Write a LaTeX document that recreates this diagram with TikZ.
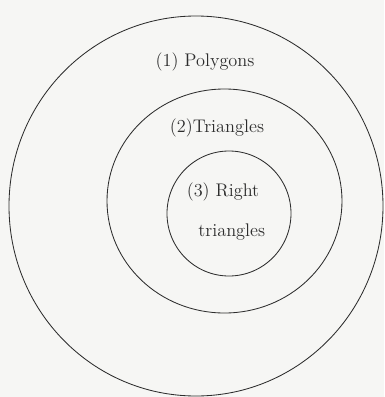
\documentclass[tikz,border=0pt]{standalone}
\usepackage{tikz}
\usetikzlibrary{positioning}
\definecolor{paper}{RGB}{246,246,244}
\definecolor{ink}{RGB}{45,45,45}

\begin{document}
\begin{tikzpicture}[
    x=0.025cm, y=-0.025cm,
    ring/.style={draw=ink, line width=0.6pt},
    every node/.style={
        font=\fontsize{13}{15}\selectfont,
        text=ink,
        inner sep=0pt
    }
]
\fill[paper] (0,0) rectangle (384,397);
\useasboundingbox (0,0) rectangle (384,397);

% sets, outermost first
\draw[ring] (196,206) ellipse [x radius=187, y radius=190];
\draw[ring] (224.5,201) ellipse [x radius=117.5, y radius=112];
\draw[ring] (229,213.5) ellipse [x radius=62, y radius=62.5];

\node (polygons) at (205,62) {(1) Polygons};
\node (triangles) at (217,128) {(2)Triangles};
\node (right) at (223,192) {(3) Right};
\node[below=1cm of right.center, anchor=center, xshift=0.22cm] (righttri) {triangles};

\end{tikzpicture}
\end{document}
